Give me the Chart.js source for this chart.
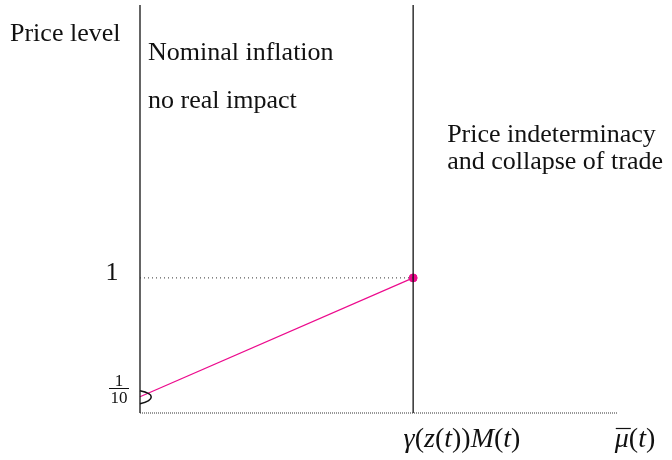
<!DOCTYPE html>
<html lang="en">
<head>
  <meta charset="UTF-8" />
  <title>Price level regimes</title>
  <script src="https://cdn.jsdelivr.net/npm/chart.js"></script>
  <style>
    html, body { margin: 0; padding: 0; background: #fff; }
    #wrap { width: 672px; height: 460px; }
  </style>
</head>
<body>
  <div id="wrap"><canvas id="chart" width="672" height="460"></canvas></div>

  <script>
    // data (x in units of gamma(z(t))M(t), y = price level)
    const xMax = 1.75;
    const yMax = 3.02;
    const boundaryX = 1;
    const priceX = [0, 1];
    const priceY = [0.12, 1];
    const yTickValues = [1, 0.12];
    const yTickLabels = ['1', '1/10'];
    const regionLabels = ['Nominal inflation', 'no real impact', 'Price indeterminacy', 'and collapse of trade'];

    const serif = '"Liberation Serif", "DejaVu Serif", serif';
    const pink = '#ec0b8d';

    // draw a list of [text, italic] runs
    function drawRuns(ctx, runs, x, y, size, align) {
      let total = 0;
      runs.forEach(r => {
        ctx.font = (r[1] ? 'italic ' : '') + size + 'px ' + serif;
        total += ctx.measureText(r[0]).width;
      });
      let cx = align === 'center' ? x - total / 2 : x;
      const spans = [];
      runs.forEach(r => {
        ctx.font = (r[1] ? 'italic ' : '') + size + 'px ' + serif;
        ctx.textAlign = 'left';
        ctx.fillText(r[0], cx, y);
        const w = ctx.measureText(r[0]).width;
        spans.push([cx, w]);
        cx += w;
      });
      return spans;
    }

    const labelsPlugin = {
      id: 'labels',
      afterDraw(chart) {
        const ctx = chart.ctx;
        const xs = chart.scales.x, ys = chart.scales.y;
        const x0 = xs.getPixelForValue(0);
        const xb = xs.getPixelForValue(boundaryX);
        ctx.save();
        ctx.fillStyle = '#111';
        ctx.textBaseline = 'alphabetic';
        ctx.font = '26px ' + serif;
        ctx.textAlign = 'left';
        ctx.fillText('Price level', 10, 41);
        ctx.fillText(regionLabels[0], x0 + 8, 60);
        ctx.fillText(regionLabels[1], x0 + 8, 108);
        ctx.fillText(regionLabels[2], xb + 34, 142);
        ctx.fillText(regionLabels[3], xb + 34, 169);

        // y tick labels
        ctx.textAlign = 'center';
        ctx.fillText(yTickLabels[0], 112, ys.getPixelForValue(yTickValues[0]) + 2);
        const parts = yTickLabels[1].split('/');
        ctx.font = '17px ' + serif;
        ctx.fillText(parts[0], 119, 386);
        ctx.fillText(parts[1], 119, 403);
        ctx.beginPath();
        ctx.lineWidth = 1;
        ctx.strokeStyle = '#111';
        ctx.moveTo(109, 388.5);
        ctx.lineTo(129, 388.5);
        ctx.stroke();

        // small arc marking the intercept
        const yi = ys.getPixelForValue(priceY[0]);
        ctx.beginPath();
        ctx.lineWidth = 1.5;
        ctx.moveTo(x0, yi - 6);
        ctx.bezierCurveTo(x0 + 15, yi - 3, x0 + 15, yi + 3, x0, yi + 7);
        ctx.stroke();

        // x labels
        const yb = 447;
        drawRuns(ctx, [['γ', true], ['(', false], ['z', true], ['(', false], ['t', true], ['))', false],
          ['M', true], ['(', false], ['t', true], [')', false]], 462, yb, 28, 'center');
        const sp = drawRuns(ctx, [['μ', true], ['(', false], ['t', true], [')', false]], 635, yb, 28, 'center');
        ctx.beginPath();
        ctx.lineWidth = 1.2;
        ctx.moveTo(sp[0][0] + 1, yb - 18.5);
        ctx.lineTo(sp[0][0] + sp[0][1] + 2, yb - 18.5);
        ctx.stroke();
        ctx.restore();
      }
    };

    const line = (data, opts) => Object.assign({
      data, borderColor: '#111', borderWidth: 1, pointRadius: 0, showLine: true, fill: false
    }, opts);

    new Chart(document.getElementById('chart'), {
      type: 'scatter',
      data: {
        datasets: [
          line([{ x: 0, y: 0 }, { x: xMax, y: 0 }], { borderDash: [1, 1], borderColor: '#333' }),
          line([{ x: 0, y: 1 }, { x: boundaryX, y: 1 }], { borderDash: [1, 3], borderColor: '#333' }),
          line([{ x: 0, y: 0 }, { x: 0, y: yMax }], { borderWidth: 1.3 }),
          line([{ x: boundaryX, y: 0 }, { x: boundaryX, y: yMax }], { borderWidth: 1.3 }),
          line(priceX.map((x, i) => ({ x, y: priceY[i] })), { borderColor: pink, borderWidth: 1.2 }),
          line([{ x: priceX[1], y: priceY[1] }], { showLine: false, pointRadius: 4, pointBackgroundColor: pink, pointBorderColor: pink })
        ]
      },
      options: {
        responsive: false,
        animation: false,
        clip: false,
        layout: { padding: { left: 140, right: 54, top: 5, bottom: 47 } },
        plugins: { legend: { display: false }, tooltip: { enabled: false } },
        scales: {
          x: { type: 'linear', min: 0, max: xMax, display: false },
          y: { type: 'linear', min: 0, max: yMax, display: false }
        }
      },
      plugins: [labelsPlugin]
    });
  </script>
</body>
</html>
